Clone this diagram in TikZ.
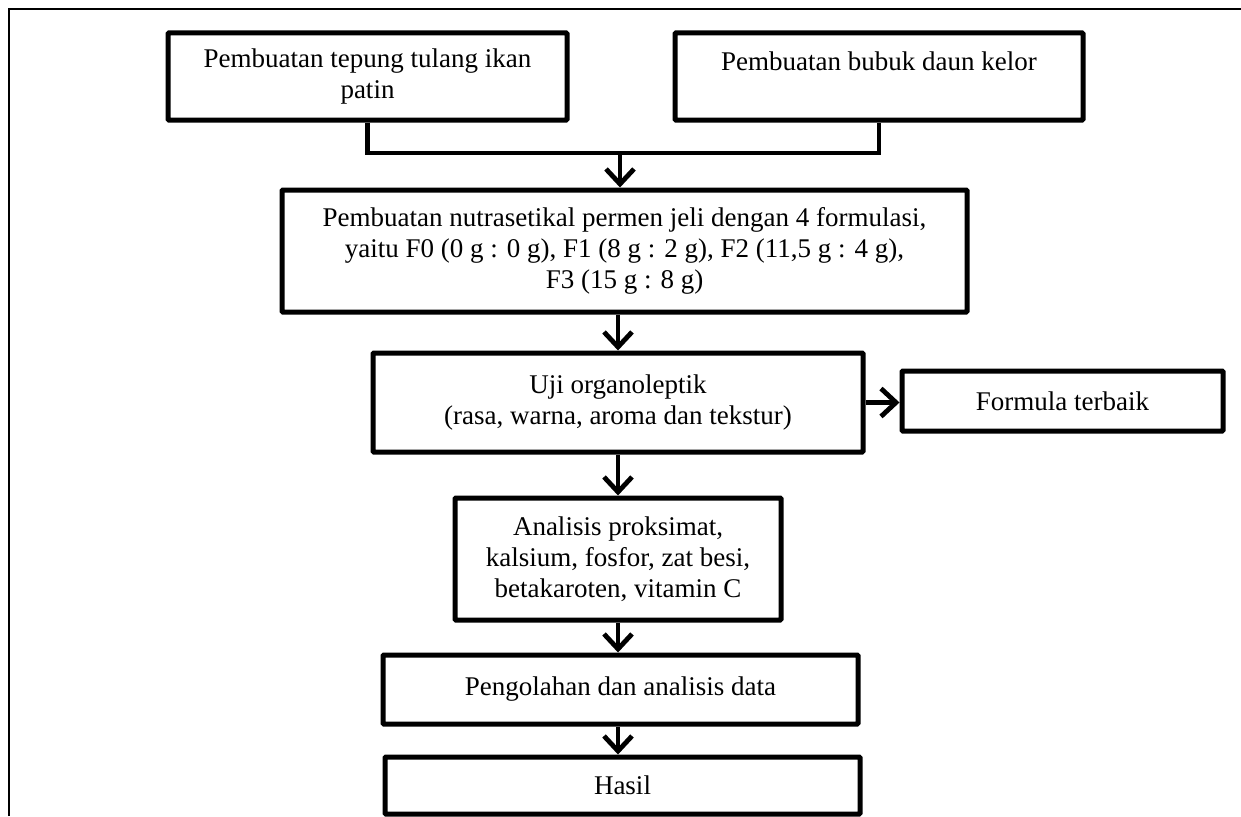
\documentclass[tikz,border=0pt]{standalone}
\usepackage{fontspec}
\setmainfont{Liberation Serif}
\usetikzlibrary{arrows.meta}

\begin{document}
\begin{tikzpicture}[x=1pt, y=-1pt,
	box/.style={draw=black, line width=5pt, rounded corners=1pt, align=center, inner sep=0pt, font=\fontsize{27}{31}\selectfont},
	link/.style={black, line width=4.8pt},
	flow/.style={link, -{Straight Barb[length=15pt, width=28pt]}}]
	\useasboundingbox (0,0) rectangle (1241,816);
	\draw[black, line width=2.5pt] (9,816) -- (9,9) -- (1241,9);

	\node[box, minimum width=399pt, minimum height=87pt] (tepung) at (367.5,76.5) {Pembuatan tepung tulang ikan\\patin};
	\node[box, minimum width=408pt, minimum height=87pt] (kelor) at (879,76.5) {Pembuatan bubuk daun kelor\\\mbox{}};
	\node[box, minimum width=685pt, minimum height=122pt] (permen) at (624.5,251) {Pembuatan nutrasetikal permen jeli dengan 4 formulasi,\\yaitu F0 (0 g : 0 g), F1 (8 g : 2 g), F2 (11,5 g : 4 g),\\F3 (15 g : 8 g)};
	\node[box, minimum width=490pt, minimum height=99pt] (uji) at (618,402.5) {Uji organoleptik\\(rasa, warna, aroma dan tekstur)};
	\node[box, minimum width=321pt, minimum height=60pt] (formula) at (1062.5,401) {Formula terbaik};
	\node[box, minimum width=326pt, minimum height=122pt] (analisis) at (618,559) {Analisis proksimat,\\kalsium, fosfor, zat besi,\\betakaroten, vitamin C};
	\node[box, minimum width=475pt, minimum height=69pt] (olah) at (620.5,689.5) {Pengolahan dan analisis data};
	\node[box, minimum width=475pt, minimum height=57pt] (hasil) at (622.5,785.5) {Hasil};

	\coordinate (gabung) at (620,153);
	\draw[link] (tepung.south) |- (gabung) -| (kelor.south);
	\draw[flow] (gabung) -- (gabung |- permen.north);
	\draw[flow] (uji.north |- permen.south) -- (uji.north);
	\draw[flow] (uji.east) -- (uji.east -| formula.west);
	\draw[flow] (analisis.north |- uji.south) -- (analisis.north);
	\draw[flow] (analisis.south) -- (analisis.south |- olah.north);
	\draw[flow] (analisis.south |- olah.south) -- (analisis.south |- hasil.north);
\end{tikzpicture}
\end{document}
